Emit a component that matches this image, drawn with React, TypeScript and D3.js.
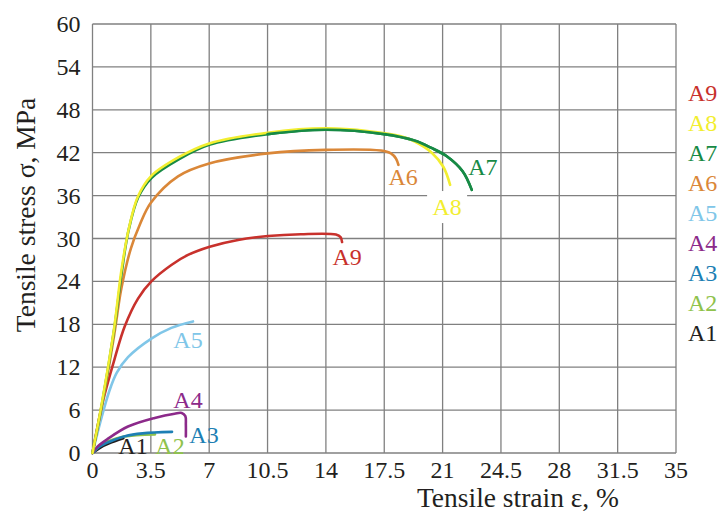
import * as d3 from "d3";

const xTicks = [0, 3.5, 7, 10.5, 14, 17.5, 21, 24.5, 28, 31.5, 35];
const yTicks = [0, 6, 12, 18, 24, 30, 36, 42, 48, 54, 60];

// strain %, stress MPa
const a1 = [[0, 0], [0.5, 0.8], [1.0, 1.35], [1.85, 2.05]];
const a2 = [[0, 0], [0.4, 0.95], [0.95, 1.65], [1.9, 2.3], [3.75, 2.6]];
const a3 = [[0, 0], [0.4, 0.85], [0.95, 1.5], [1.95, 2.35], [3.0, 2.75], [4.77, 2.95]];
const a4 = [[0, 0], [0.3, 0.9], [0.93, 2.0], [2.13, 3.7], [3.73, 4.9], [4.93, 5.5], [5.35, 5.6], [5.57, 5.15], [5.6, 4.0], [5.6, 2.3]];
const a5 = [[0, 0], [0.5, 4.6], [1.0, 8.6], [1.45, 11.2], [2.13, 13.4], [3.53, 16.0], [4.73, 17.5], [6.03, 18.4]];
const a6 = [[0, 0], [0.6, 7.0], [1.3, 16.5], [1.73, 23.0], [2.3, 28.6], [2.83, 31.9], [3.5, 35.0], [5.13, 38.7], [7, 40.5], [10.5, 41.9], [14, 42.4], [17.3, 42.3], [17.9, 41.9], [18.2, 41.2], [18.35, 40.3]];
const a7 = [[0, 0], [0.6, 7.3], [1.3, 17.3], [1.75, 25.2], [2.15, 31.0], [2.75, 35.8], [3.55, 38.5], [5.2, 41.1], [7, 43.1], [10.5, 44.6], [14, 45.2], [17.5, 44.6], [19.3, 43.7], [20.3, 42.7], [21.25, 41.5], [22.2, 39.4], [22.75, 36.8]];
const a8 = [[0, 0], [0.6, 7.5], [1.3, 17.5], [1.73, 25.5], [2.2, 31.6], [2.73, 35.9], [3.5, 38.7], [5.2, 41.4], [7, 43.3], [10.5, 44.8], [14, 45.4], [16.6, 45.0], [18.5, 44.3], [19.3, 43.6], [20.35, 42.0], [21.05, 40.0], [21.45, 37.5]];
const a9 = [[0, 0], [0.6, 7.0], [1.33, 13.2], [1.93, 17.7], [2.73, 21.6], [3.53, 24.0], [4.73, 26.3], [5.73, 27.7], [7.03, 28.85], [8.73, 29.8], [10.53, 30.35], [12.5, 30.6], [14.6, 30.55], [14.88, 30.2], [14.97, 29.5]];

const names = ["A9", "A8", "A7", "A6", "A5", "A4", "A3", "A2", "A1"];
const curves: Record<string, number[][]> = { A1: a1, A2: a2, A3: a3, A4: a4, A5: a5, A6: a6, A7: a7, A8: a8, A9: a9 };

// where each curve label sits, in data units
const labelAt: Record<string, number[]> = {
  A9: [15.27, 27.4], A8: [21.27, 34.4], A7: [23.42, 40.0], A6: [18.63, 38.6],
  A5: [5.73, 15.8], A4: [5.73, 7.4], A3: [6.69, 2.5], A2: [4.65, 1.0], A1: [2.43, 1.0],
};

const colors: Record<string, string> = {
  A9: "#c8312c", A8: "#f2ee30", A7: "#178a45", A6: "#da8738", A5: "#80c6e8",
  A4: "#8c2a8a", A3: "#1d7fb4", A2: "#8fc24c", A1: "#231f20",
};

const drawOrder = ["A1", "A2", "A3", "A4", "A5", "A9", "A6", "A7", "A8"];

export default function App() {
  const W = 722;
  const H = 516;
  const left = 92.5, right = 676, top = 24, bottom = 453;
  const font = "Liberation Serif, DejaVu Serif, serif";

  const x = d3.scaleLinear().domain([0, 35]).range([left, right]);
  const y = d3.scaleLinear().domain([0, 60]).range([bottom, top]);

  const line = d3
    .line<number[]>()
    .x((d) => x(d[0]))
    .y((d) => y(d[1]))
    .curve(d3.curveCatmullRom.alpha(0.5));

  const gridColor = "#808080";
  const textColor = "#231f20";

  return (
    <svg width={W} height={H} style={{ position: "absolute", left: 0, top: 0, background: "#fff", fontFamily: font }}>
      <rect x={0} y={0} width={W} height={H} fill="#fff" />

      {xTicks.map((t) => (
        <line key={"gx" + t} x1={x(t)} x2={x(t)} y1={top} y2={bottom} stroke={gridColor} strokeWidth={1.3} />
      ))}
      {yTicks.map((t) => (
        <line key={"gy" + t} x1={left} x2={right} y1={y(t)} y2={y(t)} stroke={gridColor} strokeWidth={1.3} />
      ))}

      {yTicks.map((t) => (
        <text key={"ty" + t} x={left - 12} y={y(t)} fontSize={24} textAnchor="end" dominantBaseline="central" fill={textColor}>
          {t}
        </text>
      ))}
      {xTicks.map((t) => (
        <text key={"tx" + t} x={x(t)} y={bottom + 17} fontSize={24} textAnchor="middle" dominantBaseline="central" fill={textColor}>
          {t}
        </text>
      ))}

      <text x={518} y={497} fontSize={27.5} textAnchor="middle" dominantBaseline="central" fill={textColor}>
        Tensile strain ε, %
      </text>
      <text
        transform={`translate(25, 215) rotate(-90)`}
        fontSize={27.5}
        textAnchor="middle"
        dominantBaseline="central"
        fill={textColor}
      >
        Tensile stress σ, MPa
      </text>

      {drawOrder.map((n) => (
        <path key={"c" + n} d={line(curves[n]) || ""} fill="none" stroke={colors[n]} strokeWidth={2.6} strokeLinecap="round" />
      ))}
      {/* the green curve shows on top along its plateau */}
      <path
        d={line(a7.filter((d) => d[0] >= 8)) || ""}
        fill="none"
        stroke={colors.A7}
        strokeWidth={2.6}
        strokeLinecap="round"
      />

      {names.map((n) => {
        const p = labelAt[n];
        return (
          <g key={"l" + n}>
            {n === "A8" && <rect x={x(p[0]) - 20} y={y(p[1]) - 16} width={40} height={32} fill="#fff" />}
            <text x={x(p[0])} y={y(p[1])} fontSize={24} textAnchor="middle" dominantBaseline="central" fill={colors[n]}>
              {n}
            </text>
          </g>
        );
      })}

      {names.map((n, i) => (
        <text key={"lg" + n} x={688} y={93 + i * 30} fontSize={24} dominantBaseline="central" fill={colors[n]}>
          {n}
        </text>
      ))}
    </svg>
  );
}
